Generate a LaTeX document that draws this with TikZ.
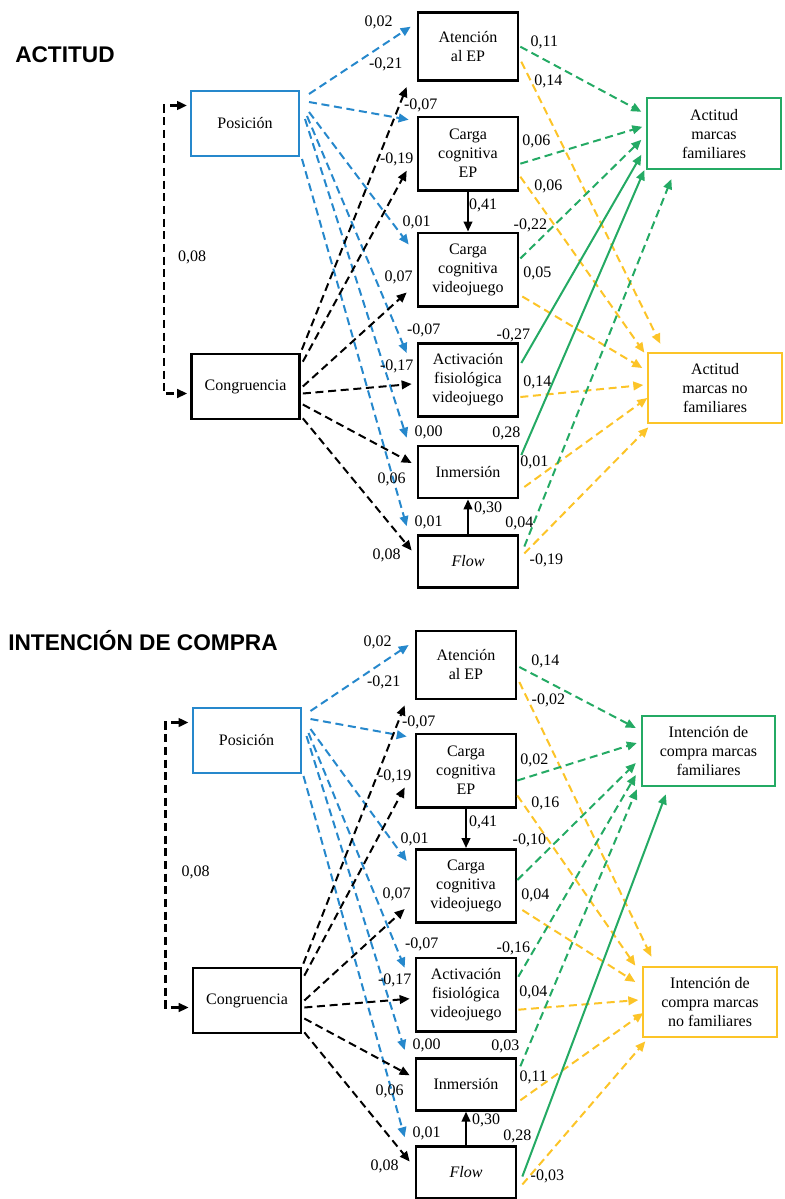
\documentclass[tikz,border=0pt]{standalone}
\usepackage{fontspec}
\setmainfont{Liberation Serif}
\newfontfamily\titlefont{Liberation Sans}
\usetikzlibrary{arrows.meta,calc}
\definecolor{bluep}{RGB}{38,136,204}
\definecolor{greenf}{RGB}{36,170,100}
\definecolor{yellown}{RGB}{252,196,40}
\begin{document}
\begin{tikzpicture}[x=0.75pt, y=-0.75pt,
        every node/.style={font=\fontsize{12}{14.25}\selectfont},
        mediator/.style={draw, line width=2pt, align=center, minimum width=75pt, inner sep=1pt},
        threeline/.style={minimum height=55pt},
        twoline/.style={minimum height=51pt},
        oneline/.style={minimum height=39pt},
        source/.style={mediator, minimum width=81pt, minimum height=48.75pt},
        outcome/.style={mediator, line width=1.5pt, minimum width=100pt, minimum height=53pt},
        coef/.style={inner sep=0pt},
        heading/.style={inner sep=0pt, font=\titlefont\bfseries\fontsize{17}{20}\selectfont},
        arrowhead/.style={-{Triangle[length=7.5pt,width=6.5pt]}},
        dashline/.style={line width=1.5pt, dash pattern=on 6pt off 3.5pt, arrowhead},
        bluearr/.style={dashline, draw=bluep},
        blackarr/.style={dashline, draw=black},
        famarr/.style={dashline, draw=greenf},
        nofarr/.style={dashline, draw=yellown},
        famsolid/.style={line width=1.5pt, draw=greenf, arrowhead},
        solidarr/.style={line width=1.5pt, arrowhead}]
    \useasboundingbox (0,0) rectangle (785,1199);

    % ACTITUD
    \node[heading, anchor=west] (title1) at (15,55) {ACTITUD};
    \node[source, draw=bluep, line width=1.5pt] (pos1) at (245,123.5) {Posición};
    \node[source] (con1) at (245.5,386.5) {Congruencia};
    \node[mediator, twoline] (ate1) at (468,46.7) {Atención\\al EP};
    \node[mediator, threeline] (cep1) at (468,153.7) {Carga\\cognitiva\\EP};
    \node[mediator, threeline] (cvj1) at (468,269.5) {Carga\\cognitiva\\videojuego};
    \node[mediator, threeline] (act1) at (468,380) {Activación\\fisiológica\\videojuego};
    \node[mediator, oneline] (inm1) at (468,472) {Inmersión};
    \node[mediator, oneline] (flo1) at (468,561.5) {\textit{Flow}};
    \node[outcome, draw=greenf] (fam1) at (714,133.8) {Actitud\\marcas\\familiares};
    \node[outcome, draw=yellown] (nof1) at (715,388) {Actitud\\marcas no\\familiares};

    \draw[dashline, line width=1.8pt, {Triangle[length=7.5pt,width=6.5pt]}-{Triangle[length=7.5pt,width=6.5pt]}]
        ($(pos1.west)+(-3,-18)$) -- ++(-23,0) |- node[coef, pos=0.25, shift={(28,8)}] {0,08} ($(con1.west)+(-3,7)$);

    \draw[bluearr] ($(pos1.north east)+(9,4)$) -- ($(ate1.west)+(-6,-20)$) node[coef, shift={(-32,-4)}] {0,02};
    \draw[bluearr] ($(pos1.north east)+(9,12)$) -- ($(cep1.north west)+(-8,4)$) node[coef, shift={(12,-14)}] {-0,07};
    \draw[bluearr] ($(pos1.north east)+(9,22)$) -- ($(cvj1.north west)+(-8,13)$) node[coef, shift={(8,-22)}] {0,01};
    \draw[bluearr] ($(pos1.north east)+(7,26)$) -- ($(act1.north west)+(-10,11)$) node[coef, shift={(17,-23)}] {-0,07};
    \draw[bluearr] ($(pos1.north east)+(5,29)$) -- ($(inm1.north west)+(-10,-7)$) node[coef, shift={(22,-5)}] {0,00};
    \draw[bluearr] ($(pos1.south east)+(2,2)$) -- ($(flo1.north west)+(-10,-8)$) node[coef, shift={(22,-4)}] {0,01};

    \draw[blackarr] ($(con1.north east)+(1,-3)$) -- ($(ate1.south west)+(-10,5)$) node[coef, shift={(-21,-23)}] {-0,21};
    \draw[blackarr] ($(con1.north east)+(2,9)$) -- ($(cep1.south west)+(-10,-21)$) node[coef, shift={(-10,-11)}] {-0,19};
    \draw[blackarr] ($(con1.east)+(2,0)$) -- ($(cvj1.south west)+(-10,-15)$) node[coef, shift={(-8,-15)}] {0,07};
    \draw[blackarr] ($(con1.east)+(2,7)$) -- ($(act1.west)+(-5,4)$) node[coef, shift={(-15,-18)}] {-0,17};
    \draw[blackarr] ($(con1.east)+(2,18)$) -- ($(inm1.west)+(-5,-9)$) node[coef, shift={(-20,16)}] {0,06};
    \draw[blackarr] ($(con1.south east)+(2,-2)$) -- ($(flo1.west)+(-5,-11)$) node[coef, shift={(-25,5)}] {0,08};

    \draw[solidarr] (cep1.south) -- node[coef, shift={(15,-6)}] {0,41} (cvj1.north);
    \draw[solidarr] (flo1.north) -- (inm1.south) node[coef, shift={(20,9)}] {0,30};

    \draw[famarr] ($(ate1.east)+(1,0)$) node[coef, shift={(24,-4)}] {0,11} -- ($(fam1.west)+(-5,-22)$);
    \draw[nofarr] ($(ate1.east)+(2,15)$) node[coef, shift={(27,20)}] {0,14} -- ($(nof1.north west)+(13,-8)$);
    \draw[famarr] ($(cep1.east)+(1,10)$) node[coef, shift={(16,-22)}] {0,06} -- ($(fam1.west)+(-4,-7)$);
    \draw[nofarr] ($(cep1.east)+(1,23)$) node[coef, shift={(28,10)}] {0,06} -- ($(nof1.north west)+(-3,1)$);
    \draw[famarr] ($(cvj1.east)+(1,-11)$) node[coef, shift={(10,-33)}] {-0,22} -- ($(fam1.west)+(-5,6)$);
    \draw[nofarr] ($(cvj1.east)+(3,27)$) node[coef, shift={(15,-23)}] {0,05} -- ($(nof1.west)+(-5,-20)$);
    \draw[famsolid] ($(act1.east)+(2,-17)$) node[coef, shift={(-8,-28)}] {-0,27} -- ($(fam1.west)+(-5,21)$);
    \draw[nofarr] ($(act1.east)+(1,17)$) node[coef, shift={(17,-15)}] {0,14} -- ($(nof1.west)+(-4,-3)$);
    \draw[famsolid] ($(inm1.east)+(2,-17)$) node[coef, shift={(-15,-22)}] {0,28} -- ($(fam1.south west)+(-2,0)$);
    \draw[nofarr] ($(inm1.east)+(5,15)$) node[coef, shift={(10,-25)}] {0,01} -- ($(nof1.west)+(0,10)$);
    \draw[famarr] ($(flo1.east)+(5,-15)$) node[coef, shift={(-5,-23)}] {0,04} -- ($(fam1.south west)+(25,9)$);
    \draw[nofarr] ($(flo1.east)+(5,-8)$) node[coef, shift={(22,7)}] {-0,19} -- ($(nof1.south west)+(1,3)$);

    % INTENCION DE COMPRA
    \node[heading, anchor=west] (title2) at (8,640.5) {INTENCIÓN DE COMPRA};
    \node[source, draw=bluep, line width=1.5pt] (pos2) at (246.5,740.5) {Posición};
    \node[source] (con2) at (247,1000.5) {Congruencia};
    \node[mediator, twoline] (ate2) at (466,665) {Atención\\al EP};
    \node[mediator, threeline] (cep2) at (466,770.5) {Carga\\cognitiva\\EP};
    \node[mediator, threeline] (cvj2) at (466,886) {Carga\\cognitiva\\videojuego};
    \node[mediator, threeline] (act2) at (466,994.7) {Activación\\fisiológica\\videojuego};
    \node[mediator, oneline] (inm2) at (466,1084.3) {Inmersión};
    \node[mediator, oneline] (flo2) at (466,1172.5) {\textit{Flow}};
    \node[outcome, draw=greenf] (fam2) at (708.5,751) {Intención de\\compra marcas\\familiares};
    \node[outcome, draw=yellown] (nof2) at (710,1002) {Intención de\\compra marcas\\no familiares};

    \draw[dashline, line width=1.8pt, {Triangle[length=7.5pt,width=6.5pt]}-{Triangle[length=7.5pt,width=6.5pt]}]
        ($(pos2.west)+(-3,-18)$) -- ++(-23,0) |- node[coef, pos=0.25, shift={(30,7)}] {0,08} ($(con2.west)+(-3,7)$);

    \draw[bluearr] ($(pos2.north east)+(9,4)$) -- ($(ate2.west)+(-6,-20)$) node[coef, shift={(-31,-3)}] {0,02};
    \draw[bluearr] ($(pos2.north east)+(9,12)$) -- ($(cep2.north west)+(-8,4)$) node[coef, shift={(12,-14)}] {-0,07};
    \draw[bluearr] ($(pos2.north east)+(9,22)$) -- ($(cvj2.north west)+(-8,13)$) node[coef, shift={(8,-22)}] {0,01};
    \draw[bluearr] ($(pos2.north east)+(7,26)$) -- ($(act2.north west)+(-10,11)$) node[coef, shift={(17,-23)}] {-0,07};
    \draw[bluearr] ($(pos2.north east)+(5,29)$) -- ($(inm2.north west)+(-10,-7)$) node[coef, shift={(22,-5)}] {0,00};
    \draw[bluearr] ($(pos2.south east)+(2,2)$) -- ($(flo2.north west)+(-10,-8)$) node[coef, shift={(22,-4)}] {0,01};

    \draw[blackarr] ($(con2.north east)+(1,-3)$) -- ($(ate2.south west)+(-10,5)$) node[coef, shift={(-21,-23)}] {-0,21};
    \draw[blackarr] ($(con2.north east)+(2,9)$) -- ($(cep2.south west)+(-10,-21)$) node[coef, shift={(-10,-11)}] {-0,19};
    \draw[blackarr] ($(con2.east)+(2,0)$) -- ($(cvj2.south west)+(-10,-15)$) node[coef, shift={(-8,-15)}] {0,07};
    \draw[blackarr] ($(con2.east)+(2,7)$) -- ($(act2.west)+(-5,4)$) node[coef, shift={(-15,-18)}] {-0,17};
    \draw[blackarr] ($(con2.east)+(2,18)$) -- ($(inm2.west)+(-5,-9)$) node[coef, shift={(-20,16)}] {0,06};
    \draw[blackarr] ($(con2.south east)+(2,-2)$) -- ($(flo2.west)+(-5,-11)$) node[coef, shift={(-25,5)}] {0,08};

    \draw[solidarr] (cep2.south) -- node[coef, shift={(17,-6)}] {0,41} (cvj2.north);
    \draw[solidarr] (flo2.north) -- (inm2.south) node[coef, shift={(20,9)}] {0,30};

    \draw[famarr] ($(ate2.east)+(2,2)$) node[coef, shift={(26,-6)}] {0,14} -- ($(fam2.west)+(-5,-23)$);
    \draw[nofarr] ($(ate2.east)+(2,17)$) node[coef, shift={(29,18)}] {-0,02} -- ($(nof2.north west)+(9,-9)$);
    \draw[famarr] ($(cep2.east)+(0,10)$) node[coef, shift={(17,-20)}] {0,02} -- ($(fam2.west)+(-4,-8)$);
    \draw[nofarr] ($(cep2.east)+(0,25)$) node[coef, shift={(28,8)}] {0,16} -- ($(nof2.north west)+(-7,0)$);
    \draw[famarr] ($(cvj2.east)+(0,-6)$) node[coef, shift={(12,-40)}] {-0,10} -- ($(fam2.west)+(-5,12)$);
    \draw[nofarr] ($(cvj2.east)+(5,24)$) node[coef, shift={(13,-15)}] {0,04} -- ($(nof2.west)+(-7,-20)$);
    \draw[famarr] ($(act2.east)+(1,-18)$) node[coef, shift={(-5,-28)}] {-0,16} -- ($(fam2.west)+(-5,24)$);
    \draw[nofarr] ($(act2.east)+(1,15)$) node[coef, shift={(15,-17)}] {0,04} -- ($(nof2.west)+(-4,-2)$);
    \draw[famarr] ($(inm2.east)+(3,-18)$) node[coef, shift={(-15,-20)}] {0,03} -- ($(fam2.south west)+(-4,2)$);
    \draw[nofarr] ($(inm2.east)+(3,16)$) node[coef, shift={(13,-23)}] {0,11} -- ($(nof2.west)+(1,11)$);
    \draw[famsolid] ($(flo2.east)+(5,4)$) node[coef, shift={(-5,-40)}] {0,28} -- ($(fam2.south west)+(25,7)$);
    \draw[nofarr] ($(flo2.east)+(5,12)$) node[coef, shift={(25,-8)}] {-0,03} -- ($(nof2.south west)+(3,3)$);
\end{tikzpicture}
\end{document}
